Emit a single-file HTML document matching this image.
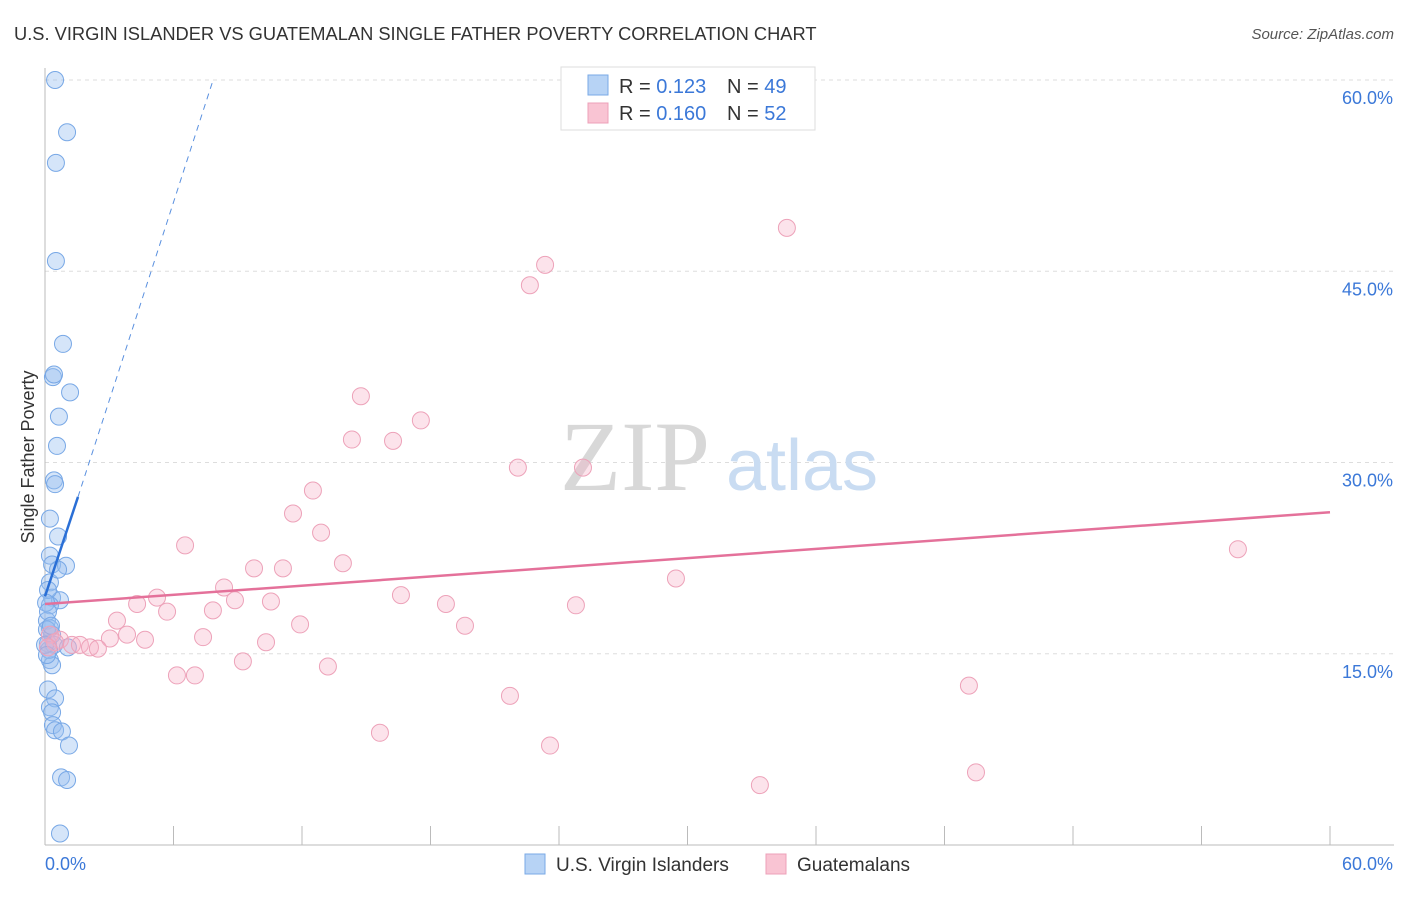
<!DOCTYPE html>
<html><head><meta charset="utf-8"><style>
body{margin:0;background:#fff;font-family:"Liberation Sans",sans-serif}
svg text{font-family:"Liberation Sans",sans-serif}
</style></head><body>
<svg id="chart" width="1406" height="892">
<text x="14" y="40" font-size="18.3" fill="#333">U.S. VIRGIN ISLANDER VS GUATEMALAN SINGLE FATHER POVERTY CORRELATION CHART</text>
<text x="1394" y="39" font-size="15" fill="#555" font-style="italic" text-anchor="end">Source: ZipAtlas.com</text>
<g id="grid"></g>
<text x="635" y="490" font-size="100" fill="#d8d8d8" style="font-family:'Liberation Serif',serif" text-anchor="middle">ZIP</text>
<text x="802" y="490" font-size="72" fill="#c9dcf2" text-anchor="middle">atlas</text>
<g id="marks"></g>
<text transform="translate(34,457) rotate(-90)" font-size="18" fill="#333" text-anchor="middle">Single Father Poverty</text>
<g>
<rect x="561" y="67" width="254" height="63" fill="#fff" stroke="#ddd"/>
<rect x="588" y="75" width="20" height="20" fill="#b7d3f5" stroke="#7aaae6"/>
<rect x="588" y="103" width="20" height="20" fill="#f9c4d3" stroke="#eda0b8"/>
<text x="619" y="93" font-size="20" fill="#333">R = <tspan fill="#3b78d8">0.123</tspan><tspan x="727">N = </tspan><tspan fill="#3b78d8">49</tspan></text>
<text x="619" y="120" font-size="20" fill="#333">R = <tspan fill="#3b78d8">0.160</tspan><tspan x="727">N = </tspan><tspan fill="#3b78d8">52</tspan></text>
</g>
<g>
<rect x="525" y="854" width="20" height="20" fill="#b7d3f5" stroke="#7aaae6"/>
<text x="556" y="871" font-size="19" fill="#333">U.S. Virgin Islanders</text>
<rect x="766" y="854" width="20" height="20" fill="#f9c4d3" stroke="#eda0b8"/>
<text x="797" y="871" font-size="19" fill="#333">Guatemalans</text>
</g>
</svg>
<script>
const xTickVals=[0,6,12,18,24,30,36,42,48,54,60];
const yTickVals=[15,30,45,60];
const yTickLabels=["15.0%","30.0%","45.0%","60.0%"];
const xEndLabels=["0.0%","60.0%"];
const blueX=[0.47,1.03,0.51,0.51,0.84,0.37,0.42,1.17,0.65,0.56,0.42,0.47,0.23,0.61,0.23,0.33,0.98,0.23,0.33,0.70,0.23,0.09,0.23,0.33,0.14,0.42,1.07,0.23,0.33,0.14,0.47,0.23,0.33,0.37,0.47,0.79,1.12,0.75,1.03,0.70,0.14,0.05,0.09,0.19,0.00,0.61,0.14,0.28,0.09];
const blueY=[60.0,55.9,53.5,45.8,39.3,36.7,36.9,35.5,33.6,31.3,28.6,28.3,25.6,24.2,22.7,22.0,21.9,20.6,19.4,19.2,18.8,17.6,17.0,16.5,15.8,15.7,15.5,14.5,14.1,12.2,11.5,10.8,10.4,9.4,9.0,8.9,7.8,5.3,5.1,0.9,20.0,19.0,16.9,15.3,15.7,21.6,18.3,17.2,14.9];
const pinkX=[34.64,23.35,22.64,14.75,17.55,14.33,16.25,22.08,25.12,12.51,11.58,12.89,6.54,13.91,55.70,9.76,11.11,29.46,8.36,5.23,16.62,4.30,8.87,10.55,5.70,7.84,18.72,24.79,3.36,11.91,19.61,3.83,3.03,4.67,7.38,10.32,0.70,1.26,1.63,2.10,2.47,0.23,0.47,0.14,9.24,13.21,6.16,7.00,43.14,21.71,15.64,23.58,43.47,33.38];
const pinkY=[48.4,45.5,43.9,35.2,33.3,31.8,31.7,29.6,29.6,27.8,26.0,24.5,23.5,22.1,23.2,21.7,21.7,20.9,20.2,19.4,19.6,18.9,19.2,19.1,18.3,18.4,18.9,18.8,17.6,17.3,17.2,16.5,16.2,16.1,16.3,15.9,16.1,15.7,15.7,15.5,15.4,16.5,15.9,15.5,14.4,14.0,13.3,13.3,12.5,11.7,8.8,7.8,5.7,4.7];
const blueTrend=[0,19.5,1.54,27.3,7.85,60];
const pinkTrend=[0,18.9,60,26.1];
const X=v=>45+v*(1330-45)/60;
const Y=v=>845-v*(845-80)/60;
const NS="http://www.w3.org/2000/svg";
const mk=(p,t,a)=>{const e=document.createElementNS(NS,t);for(const k in a)e.setAttribute(k,a[k]);p.appendChild(e);return e;};
const g=document.getElementById('grid'),m=document.getElementById('marks');
yTickVals.forEach((v,i)=>{
 const l=mk(g,'line',{x1:45,x2:1394,y1:Y(v),y2:Y(v),stroke:'#ddd','stroke-dasharray':'4,4'});
 
 
 const t=mk(g,'text',{x:1393,y:Y(v)+24,'font-size':18,fill:'#3b78d8','text-anchor':'end'});t.textContent=yTickLabels[i];
 
 
});
const ax=mk(g,'line',{x1:45,x2:45,y1:68,y2:845,stroke:'#bbb'});


const bx=mk(g,'line',{x1:45,x2:1394,y1:845,y2:845,stroke:'#bbb'});


xTickVals.forEach(v=>{const t=mk(g,'line',{x1:X(v),x2:X(v),y1:826,y2:845,stroke:'#bbb'});
 
 });
[[0,'start',45],[60,'end',1393]].forEach((a,i)=>{const t=mk(g,'text',{x:a[2],y:870,'font-size':18,fill:'#3b78d8','text-anchor':a[1]});t.textContent=xEndLabels[i];
 
 });
blueX.forEach((x,i)=>{const c=mk(m,'circle',{cx:X(x),cy:Y(blueY[i]),r:8.5,fill:'rgba(150,190,240,0.4)',stroke:'#78a8e6','stroke-width':1});
 
 });
pinkX.forEach((x,i)=>{const c=mk(m,'circle',{cx:X(x),cy:Y(pinkY[i]),r:8.5,fill:'rgba(245,175,198,0.35)',stroke:'#eda2b9','stroke-width':1});
 
 });
const b1=mk(m,'line',{x1:X(blueTrend[0]),y1:Y(blueTrend[1]),x2:X(blueTrend[2]),y2:Y(blueTrend[3]),stroke:'#2a6fd6','stroke-width':2.5});


const b2=mk(m,'line',{x1:X(blueTrend[2]),y1:Y(blueTrend[3]),x2:X(blueTrend[4]),y2:Y(blueTrend[5]),stroke:'#5a90df','stroke-width':1,'stroke-dasharray':'6,5'});


const p1=mk(m,'line',{x1:X(pinkTrend[0]),y1:Y(pinkTrend[1]),x2:X(pinkTrend[2]),y2:Y(pinkTrend[3]),stroke:'#e4719a','stroke-width':2.5});


</script>
</body></html>
